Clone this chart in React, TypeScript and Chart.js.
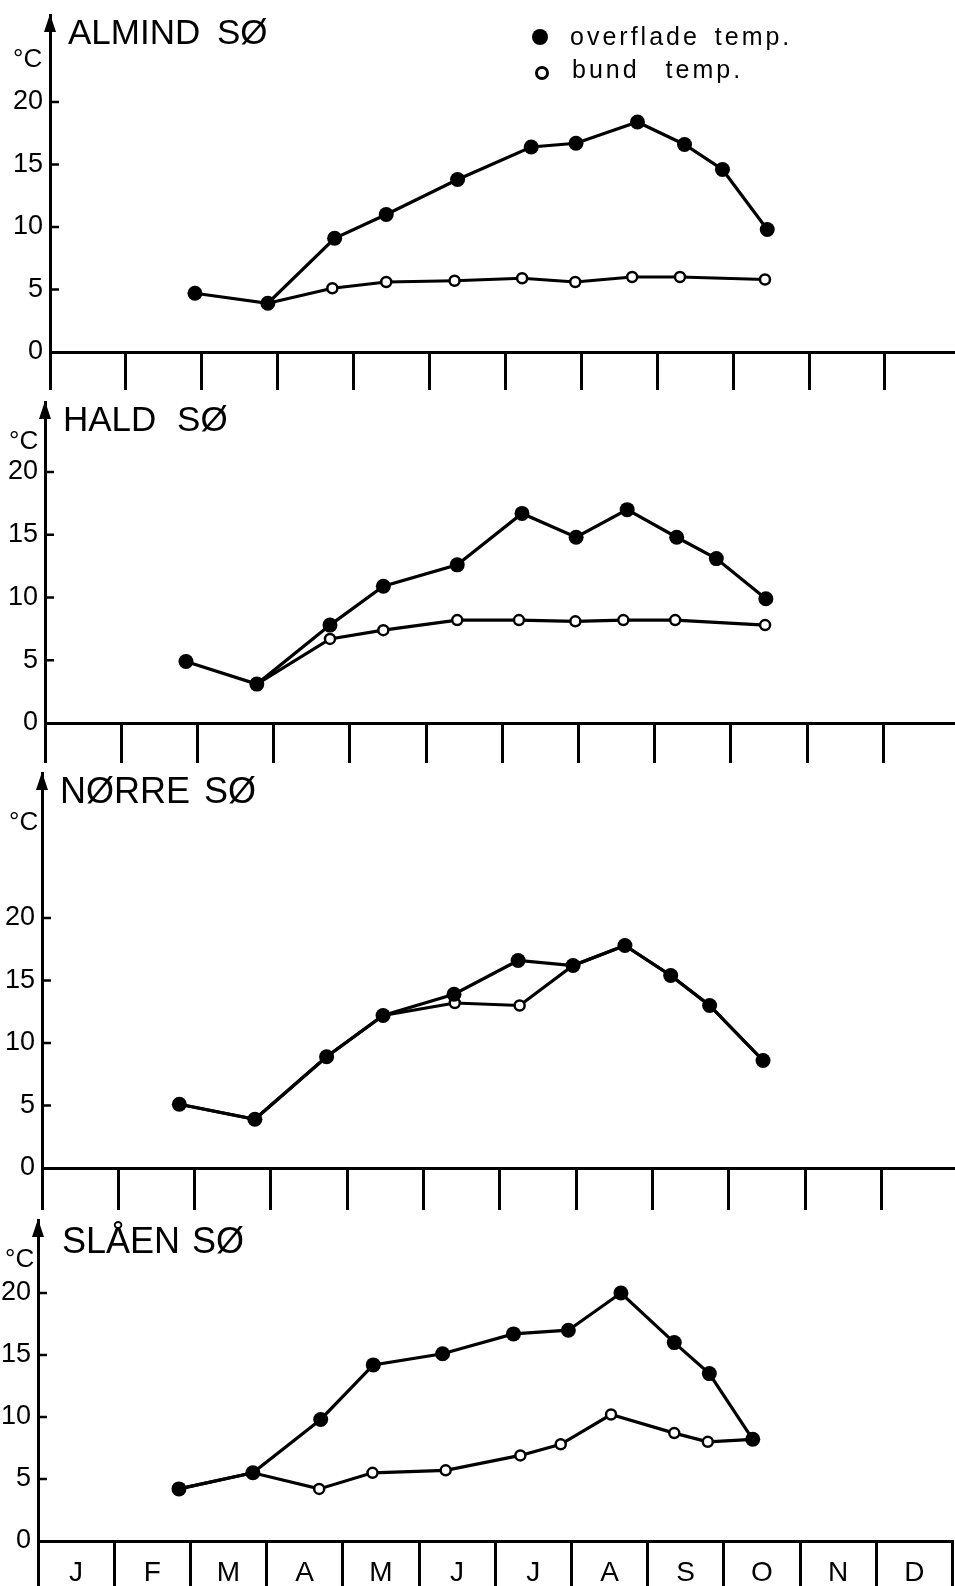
import React, { useEffect, useRef } from "react";
import { Chart, registerables } from "chart.js";

Chart.register(...registerables);

const FONT = "'Liberation Sans', Arial, sans-serif";

// ---------- data ----------
const MONTHS = ["J", "F", "M", "A", "M", "J", "J", "A", "S", "O", "N", "D"];
const Y_TICKS = [0, 5, 10, 15, 20];
const X_TICK_VALUES = [
  0, 0.5, 1, 1.5, 2, 2.5, 3, 3.5, 4, 4.5, 5, 5.5, 6, 6.5, 7, 7.5, 8, 8.5, 9, 9.5, 10, 10.5, 11, 11.5, 12,
];

// x = months since 1 January
const almindSurfaceX = [1.91, 2.87, 3.75, 4.43, 5.37, 6.34, 6.93, 7.74, 8.36, 8.86, 9.45];
const almindSurfaceY = [4.7, 3.9, 9.1, 11.0, 13.8, 16.4, 16.7, 18.4, 16.6, 14.6, 9.8];
const almindBottomX = [2.87, 3.72, 4.43, 5.33, 6.22, 6.92, 7.67, 8.3, 9.42];
const almindBottomY = [3.9, 5.1, 5.6, 5.7, 5.9, 5.6, 6.0, 6.0, 5.8];

const haldSurfaceX = [1.85, 2.78, 3.74, 4.44, 5.41, 6.26, 6.97, 7.64, 8.29, 8.81, 9.46];
const haldSurfaceY = [4.9, 3.1, 7.8, 10.9, 12.6, 16.7, 14.8, 17.0, 14.8, 13.1, 9.9];
const haldBottomX = [2.78, 3.74, 4.44, 5.41, 6.22, 6.96, 7.59, 8.27, 9.45];
const haldBottomY = [3.1, 6.7, 7.4, 8.2, 8.2, 8.1, 8.2, 8.2, 7.8];

const norreSurfaceX = [1.8, 2.79, 3.73, 4.47, 5.4, 6.24, 6.96, 7.64, 8.24, 8.75, 9.45];
const norreSurfaceY = [5.1, 3.9, 8.9, 12.2, 13.9, 16.6, 16.2, 17.8, 15.4, 13.0, 8.6];
const norreBottomX = [1.8, 2.79, 3.73, 4.47, 5.41, 6.26, 6.96, 7.64, 8.24, 8.75, 9.45];
const norreBottomY = [5.1, 3.9, 8.9, 12.2, 13.2, 13.0, 16.2, 17.8, 15.4, 13.0, 8.6];

const slaenSurfaceX = [1.85, 2.82, 3.71, 4.4, 5.31, 6.24, 6.96, 7.65, 8.35, 8.81, 9.38];
const slaenSurfaceY = [4.2, 5.5, 9.8, 14.2, 15.1, 16.7, 17.0, 20.0, 16.0, 13.5, 8.2];
const slaenBottomX = [1.85, 2.82, 3.69, 4.39, 5.35, 6.33, 6.86, 7.52, 8.35, 8.79, 9.38];
const slaenBottomY = [4.2, 5.5, 4.2, 5.5, 5.7, 6.9, 7.8, 10.2, 8.7, 8.0, 8.2];

const SURFACE_LABEL = "overflade temp.";
const BOTTOM_LABEL = "bund temp.";

// ---------- layout ----------
type PanelDef = {
  key: string;
  title: string;
  surfX: number[];
  surfY: number[];
  botX: number[];
  botY: number[];
  axisX: number;
  monthW: number;
  y0: number;
  yTop: number;
  unit: number;
  tickLen: number;
  showLabels: boolean;
  titleX: number;
  titleTop: number;
  titleSize: number;
  titleWS: number;
  unitX: number;
  unitTop: number;
};

const PANELS: PanelDef[] = [
  {
    key: "almind", title: "ALMIND SØ",
    surfX: almindSurfaceX, surfY: almindSurfaceY, botX: almindBottomX, botY: almindBottomY,
    axisX: 50, monthW: 75.9, y0: 352, yTop: 15, unit: 12.5, tickLen: 38, showLabels: false,
    titleX: 68, titleTop: 13.5, titleSize: 35, titleWS: 7, unitX: 13, unitTop: 45,
  },
  {
    key: "hald", title: "HALD SØ",
    surfX: haldSurfaceX, surfY: haldSurfaceY, botX: haldBottomX, botY: haldBottomY,
    axisX: 45, monthW: 76.2, y0: 723, yTop: 402, unit: 12.55, tickLen: 40, showLabels: false,
    titleX: 63, titleTop: 400.5, titleSize: 35, titleWS: 11, unitX: 9, unitTop: 427,
  },
  {
    key: "norre", title: "NØRRE SØ",
    surfX: norreSurfaceX, surfY: norreSurfaceY, botX: norreBottomX, botY: norreBottomY,
    axisX: 42, monthW: 76.3, y0: 1168, yTop: 773, unit: 12.5, tickLen: 42, showLabels: false,
    titleX: 60, titleTop: 773.3, titleSize: 36, titleWS: 4, unitX: 9, unitTop: 808,
  },
  {
    key: "slaen", title: "SLÅEN SØ",
    surfX: slaenSurfaceX, surfY: slaenSurfaceY, botX: slaenBottomX, botY: slaenBottomY,
    axisX: 38, monthW: 76.2, y0: 1541, yTop: 1220, unit: 12.4, tickLen: 50, showLabels: true,
    titleX: 62, titleTop: 1223.3, titleSize: 36, titleWS: 2, unitX: 5, unitTop: 1245,
  },
];

const PAD_TOP = 26;
const CANVAS_W = 990;

const axisDecor = {
  id: "axisDecor",
  afterDraw(chart: any) {
    const { ctx, chartArea } = chart;
    const ys = chart.scales.y;
    const left = chartArea.left;
    const top = chartArea.top;
    ctx.save();
    ctx.fillStyle = "#000";
    ctx.beginPath();
    ctx.moveTo(left, top - 1);
    ctx.lineTo(left - 6, top + 17);
    ctx.lineTo(left + 6, top + 17);
    ctx.closePath();
    ctx.fill();
    ctx.strokeStyle = "#000";
    ctx.lineWidth = 2.5;
    Y_TICKS.forEach((v) => {
      if (v === 0) return;
      const py = ys.getPixelForValue(v);
      ctx.beginPath();
      ctx.moveTo(left, py);
      ctx.lineTo(left + 9, py);
      ctx.stroke();
    });
    ctx.restore();
  },
};

function Panel({ p }: { p: PanelDef }) {
  const ref = useRef<HTMLCanvasElement>(null);
  const xH = p.tickLen + 4;
  const CH = PAD_TOP + (p.y0 - p.yTop) + xH;

  useEffect(() => {
    if (!ref.current) return;
    const yMax = (p.y0 - p.yTop) / p.unit;
    const chart = new Chart(ref.current, {
      type: "line",
      data: {
        datasets: [
          {
            label: SURFACE_LABEL,
            data: p.surfX.map((x, i) => ({ x, y: p.surfY[i] })),
            borderColor: "#000",
            borderWidth: 3.2,
            pointRadius: 7.5,
            pointBackgroundColor: "#000",
            pointBorderColor: "#000",
            pointBorderWidth: 0,
            tension: 0,
            order: 0,
          },
          {
            label: BOTTOM_LABEL,
            data: p.botX.map((x, i) => ({ x, y: p.botY[i] })),
            borderColor: "#000",
            borderWidth: 3.2,
            pointRadius: 5,
            pointBackgroundColor: "#fff",
            pointBorderColor: "#000",
            pointBorderWidth: 2.5,
            tension: 0,
            order: 1,
          },
        ],
      },
      options: {
        responsive: false,
        animation: false,
        devicePixelRatio: 1,
        events: [],
        layout: {
          padding: {
            left: 0,
            top: PAD_TOP,
            right: CANVAS_W - (p.axisX + 12 * p.monthW),
            bottom: 0,
          },
        },
        plugins: { legend: { display: false }, tooltip: { enabled: false } },
        scales: {
          x: {
            type: "linear",
            position: "bottom",
            min: 0,
            max: 12,
            afterBuildTicks: (s: any) => {
              s.ticks = X_TICK_VALUES.map((v) => ({ value: v }));
            },
            afterFit: (s: any) => {
              s.height = xH;
            },
            grid: {
              display: true,
              drawOnChartArea: false,
              drawTicks: true,
              tickLength: p.tickLen,
              color: (c: any) =>
                c.tick && Number.isInteger(c.tick.value) ? "#000" : "rgba(0,0,0,0)",
              lineWidth: 3,
            },
            border: { display: true, color: "#000", width: 3 },
            ticks: {
              autoSkip: false,
              maxRotation: 0,
              minRotation: 0,
              padding: 15 - p.tickLen,
              color: "#000",
              font: { family: FONT, size: 28 },
              callback: (v: any) => {
                const n = Number(v);
                if (!p.showLabels || Number.isInteger(n)) return "";
                return MONTHS[Math.floor(n)];
              },
            },
          },
          y: {
            type: "linear",
            min: 0,
            max: yMax,
            afterBuildTicks: (s: any) => {
              s.ticks = Y_TICKS.map((v) => ({ value: v }));
            },
            afterFit: (s: any) => {
              s.width = p.axisX;
            },
            grid: { display: false, drawTicks: false },
            border: { display: true, color: "#000", width: 3 },
            ticks: {
              color: "#000",
              padding: 7,
              font: { family: FONT, size: 27 },
              callback: (v: any) => String(v),
            },
          },
        },
      },
      plugins: [axisDecor],
    } as any);
    return () => chart.destroy();
  }, []);

  return (
    <canvas
      ref={ref}
      width={CANVAS_W}
      height={CH}
      style={{ position: "absolute", left: 0, top: p.yTop - PAD_TOP, width: CANVAS_W, height: CH }}
    />
  );
}

export default function App() {
  return (
    <div
      style={{
        position: "fixed",
        left: 0,
        top: 0,
        width: 955,
        height: 1586,
        overflow: "hidden",
        background: "#fff",
        fontFamily: FONT,
        color: "#000",
      }}
    >
      {PANELS.map((p) => (
        <Panel key={p.key} p={p} />
      ))}
      {PANELS.map((p) => (
        <div
          key={p.key + "-t"}
          style={{
            position: "absolute",
            left: p.titleX,
            top: p.titleTop,
            fontSize: p.titleSize,
            lineHeight: 1,
            wordSpacing: p.titleWS,
            whiteSpace: "nowrap",
          }}
        >
          {p.title}
        </div>
      ))}
      {PANELS.map((p) => (
        <div
          key={p.key + "-u"}
          style={{
            position: "absolute",
            left: p.unitX,
            top: p.unitTop,
            fontSize: 26,
            lineHeight: 1,
            whiteSpace: "nowrap",
          }}
        >
          °C
        </div>
      ))}
      {/* legend */}
      <div
        style={{
          position: "absolute",
          left: 532,
          top: 29,
          width: 16,
          height: 16,
          borderRadius: "50%",
          background: "#000",
        }}
      />
      <div
        style={{
          position: "absolute",
          left: 534.5,
          top: 65.5,
          width: 8,
          height: 8,
          borderRadius: "50%",
          border: "3px solid #000",
          background: "#fff",
        }}
      />
      <div
        style={{
          position: "absolute",
          left: 570,
          top: 24,
          fontSize: 25,
          lineHeight: 1,
          letterSpacing: 3,
          wordSpacing: 5,
          whiteSpace: "nowrap",
        }}
      >
        {SURFACE_LABEL}
      </div>
      <div
        style={{
          position: "absolute",
          left: 572,
          top: 57,
          fontSize: 25,
          lineHeight: 1,
          letterSpacing: 3,
          wordSpacing: 16,
          whiteSpace: "nowrap",
        }}
      >
        {BOTTOM_LABEL}
      </div>
    </div>
  );
}
